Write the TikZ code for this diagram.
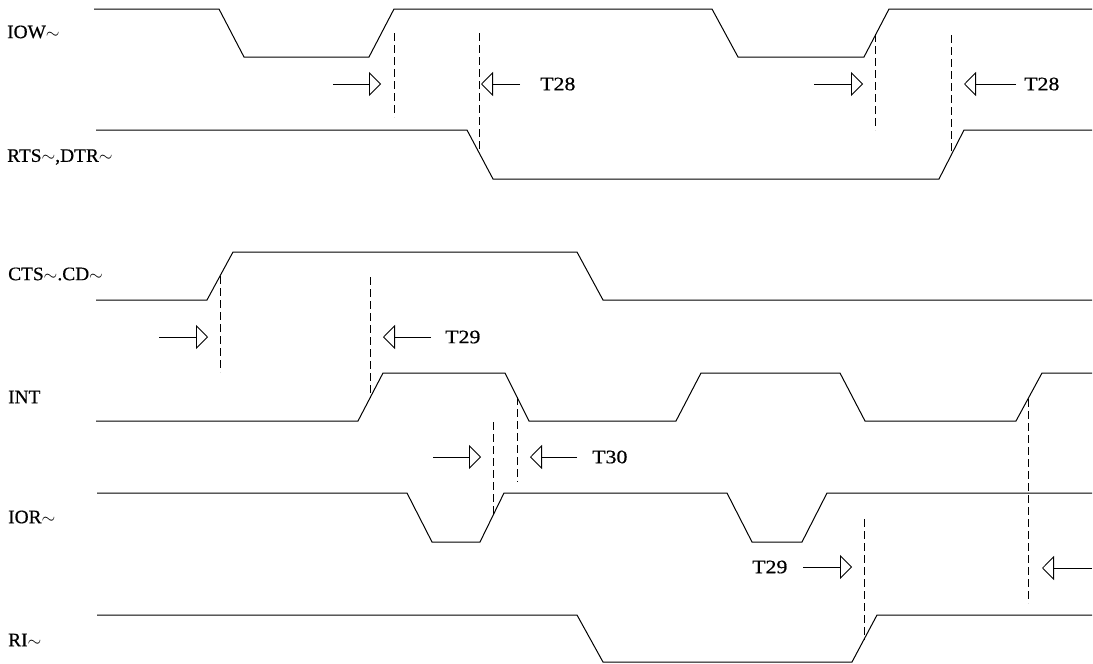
\documentclass[tikz,border=0pt]{standalone}
\usepackage{fontspec}
\setmainfont{Liberation Serif}
\newfontfamily\plotfont{Liberation Serif}[FakeBold=0.5]
\usetikzlibrary{arrows.meta}
\newcommand\tld{$\sim$}
\newcommand\wide[1]{\scalebox{1.02}[1]{#1}}
\newcommand\twide[1]{\scalebox{1.15}[1]{#1}}
\begin{document}
\begin{tikzpicture}[x=1pt,y=-1pt,
  sig/.style={line width=1pt, line join=miter},
  guide/.style={line width=0.8pt, dash pattern=on 8pt off 4pt},
  dimr/.style={line width=0.8pt, -{Triangle[open,length=12pt,width=24pt]}},
  lbl/.style={anchor=west, inner sep=0pt, font=\plotfont\fontsize{19}{19}\selectfont},
  tlbl/.style={anchor=west, inner sep=0pt, font=\plotfont\fontsize{19}{19}\selectfont}]
\useasboundingbox (0,0) rectangle (1093,664);

% signal names
\node[lbl] (nIOW) at (7,32) {\wide{IOW\tld}};
\node[lbl] (nRTS) at (7,157) {\wide{RTS\tld,DTR\tld}};
\node[lbl] (nCTS) at (8,274) {\wide{CTS\tld.CD\tld}};
\node[lbl] (nINT) at (8,397) {\wide{INT}};
\node[lbl] (nIOR) at (8,517) {\wide{IOR\tld}};
\node[lbl] (nRI)  at (8,640) {\wide{RI\tld}};

% waveforms
\draw[sig] (94,9) -- (219,9) -- (244,57) -- (369,57) -- (394,9) -- (712,9) -- (738,57) -- (864,57) -- (889,9) -- (1092,9);
\draw[sig] (96,130) -- (467,130) -- (493,179) -- (939,179) -- (964,130) -- (1092,130);
\draw[sig] (96,300) -- (207,300) -- (233,252) -- (577,252) -- (603,300) -- (1092,300);
\draw[sig] (96,421) -- (358,421) -- (383,373) -- (505,373) -- (529,421) -- (676,421) -- (701,373) -- (840,373) -- (865,421) -- (1016,421) -- (1042,373) -- (1092,373);
\draw[sig] (97,493) -- (407,493) -- (432,542) -- (480,542) -- (504,493) -- (727,493) -- (752,542) -- (802,542) -- (827,493) -- (1092,493);
\draw[sig] (97,615) -- (577,615) -- (603,662) -- (852,662) -- (877,615) -- (1092,615);

% dashed reference lines
\draw[guide] (394,33) -- (394,117);
\draw[guide] (479,33) -- (479,153);
\draw[guide] (875,34) -- (875,130);
\draw[guide] (951,35) -- (951,155);
\draw[guide] (220,276) -- (220,372);
\draw[guide] (370,277) -- (370,398);
\draw[guide] (517,397) -- (517,482);
\draw[guide] (493,422) -- (493,515);
\draw[guide] (1028,399) -- (1028,603);
\draw[guide] (864,519) -- (864,640);

% timing arrows
\draw[dimr] (333,84) -- (381,84);
\draw[dimr] (520,84) -- (481,84);
\node[tlbl] (t28a) at (540,84) {\twide{T28}};
\draw[dimr] (814,84) -- (863,84);
\draw[dimr] (1016,84) -- (964,84);
\node[tlbl] (t28b) at (1024,84) {\twide{T28}};

\draw[dimr] (159,337) -- (208,337);
\draw[dimr] (431,337) -- (383,337);
\node[tlbl] (t29a) at (445,337) {\twide{T29}};

\draw[dimr] (433,457) -- (481,457);
\draw[dimr] (577,457) -- (530,457);
\node[tlbl] (t30) at (592,457) {\twide{T30}};

\node[tlbl] (t29b) at (752,567) {\twide{T29}};
\draw[dimr] (803,567) -- (852,567);
\draw[dimr] (1092,568) -- (1042,568);
\end{tikzpicture}
\end{document}
